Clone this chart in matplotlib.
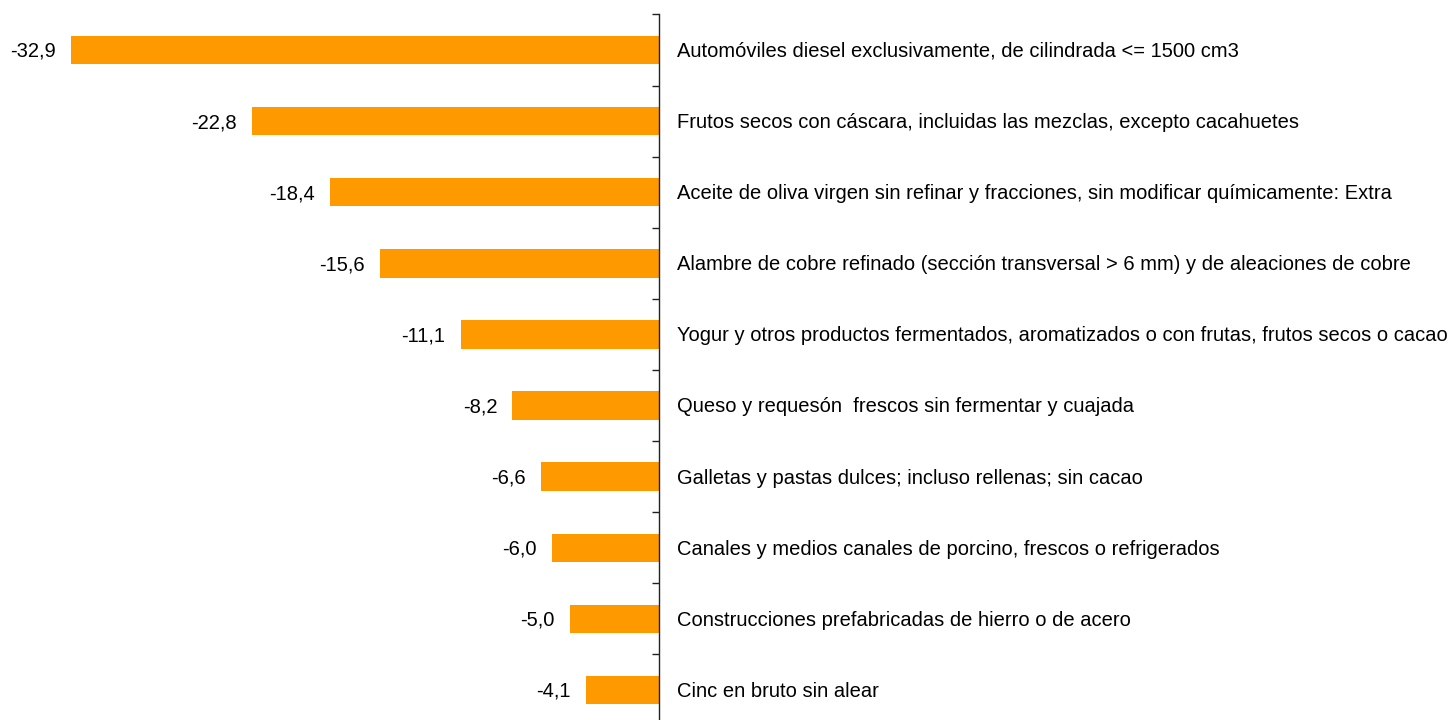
import matplotlib
matplotlib.use('Agg')
import matplotlib.pyplot as plt

categorias = [
    'Automóviles diesel exclusivamente, de cilindrada <= 1500 cm3',
    'Frutos secos con cáscara, incluidas las mezclas, excepto cacahuetes',
    'Aceite de oliva virgen sin refinar y fracciones, sin modificar químicamente: Extra',
    'Alambre de cobre refinado (sección transversal > 6 mm) y de aleaciones de cobre',
    'Yogur y otros productos fermentados, aromatizados o con frutas, frutos secos o cacao',
    'Queso y requesón  frescos sin fermentar y cuajada',
    'Galletas y pastas dulces; incluso rellenas; sin cacao',
    'Canales y medios canales de porcino, frescos o refrigerados',
    'Construcciones prefabricadas de hierro o de acero',
    'Cinc en bruto sin alear',
]
valores = [-32.9, -22.8, -18.4, -15.6, -11.1, -8.2, -6.6, -6.0, -5.0, -4.1]

plt.rcParams['font.family'] = ['Liberation Sans', 'DejaVu Sans']

W, H = 1454, 720
fig = plt.figure(figsize=(W / 100, H / 100), dpi=100)
# zero line at x=659 px, axes spans y 14.5..725.5 px
ax = fig.add_axes([0, (H - 725.5) / H, 659 / W, 711 / H])

escala = 17.87  # px per unit
ax.set_xlim(-659 / escala, 0)
ax.set_ylim(len(categorias) - 0.5, -0.5)

pos = range(len(categorias))
ax.barh(pos, valores, height=0.4, color='#FF9900')

for i, (v, c) in enumerate(zip(valores, categorias)):
    ax.annotate(f'{v:.1f}'.replace('.', ','), (v, i), xytext=(-11, -1),
                textcoords='offset points', ha='right', va='center',
                fontsize=14.5, color='black', annotation_clip=False)
    ax.annotate(c, (0, i), xytext=(13, -1), textcoords='offset points',
                ha='left', va='center', fontsize=14.5, color='black',
                annotation_clip=False)

for s in ['left', 'top', 'bottom']:
    ax.spines[s].set_visible(False)
ax.spines['right'].set_color('#222222')
ax.spines['right'].set_linewidth(1)
ax.set_xticks([])
ax.yaxis.tick_right()
ax.set_yticks([i - 0.5 for i in range(len(categorias) + 1)])
ax.set_yticklabels([])
ax.tick_params(axis='y', direction='in', length=5, width=1, color='#222222')

fig.savefig('out.png', dpi=100)
